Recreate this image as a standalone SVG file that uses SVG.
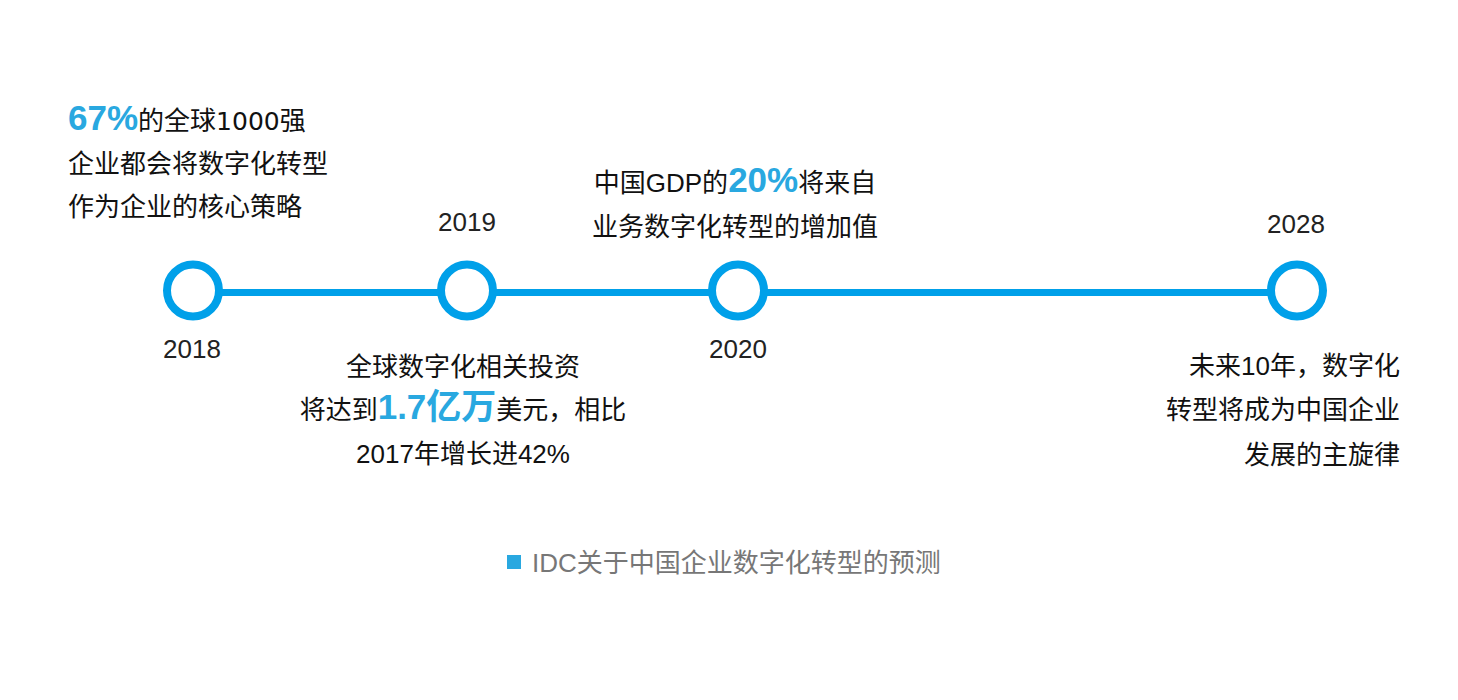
<svg xmlns="http://www.w3.org/2000/svg" width="1458" height="700" viewBox="0 0 1458 700">
<style>
text{font-family:"Liberation Sans","Noto Sans CJK SC",sans-serif;fill:#111;}
.t{font-size:26px;}
.y{font-size:26px;fill:#222;}
.hl{font-size:35px;font-weight:bold;fill:#29a8e0;}
.num{font-family:"DejaVu Sans","Liberation Sans",sans-serif;font-size:25px;}
.mid{text-anchor:middle;}
.end{text-anchor:end;}
.node{fill:#fff;stroke:#00a0e9;stroke-width:8;}
.lg{font-size:26px;fill:#777;}
</style>
<rect width="1458" height="700" fill="#fff"/>
<g id="connectors">
<line x1="219" y1="292.5" x2="1272" y2="292.5" stroke="#00a0e9" stroke-width="7"/>
</g>
<g id="n2018">
<circle class="node" cx="193" cy="290.5" r="26"/>
<text class="y mid" x="192" y="358">2018</text>
<text class="t" x="68" y="130"><tspan class="hl">67%</tspan>的全球<tspan class="num">1000</tspan>强</text>
<text class="t" x="68" y="173">企业都会将数字化转型</text>
<text class="t" x="68" y="216">作为企业的核心策略</text>
</g>
<g id="n2019">
<circle class="node" cx="467" cy="290.5" r="26"/>
<text class="y mid" x="467" y="231">2019</text>
<text class="t mid" x="463" y="376">全球数字化相关投资</text>
<text class="t mid" x="463" y="419">将达到<tspan class="hl">1.7亿万</tspan>美元，相比</text>
<text class="t mid" x="463" y="463">2017年增长进42%</text>
</g>
<g id="n2020">
<circle class="node" cx="738" cy="290.5" r="26"/>
<text class="y mid" x="738" y="358">2020</text>
<text class="t mid" x="735" y="192">中国GDP的<tspan class="hl">20%</tspan>将来自</text>
<text class="t mid" x="735" y="236">业务数字化转型的增加值</text>
</g>
<g id="n2028">
<circle class="node" cx="1297" cy="290.5" r="26"/>
<text class="y mid" x="1296" y="233">2028</text>
<text class="t end" x="1400" y="375">未来10年，数字化</text>
<text class="t end" x="1400" y="419">转型将成为中国企业</text>
<text class="t end" x="1400" y="464">发展的主旋律</text>
</g>
<g id="legend">
<rect x="507" y="555" width="14" height="14" fill="#29a8e0"/>
<text class="lg" x="532" y="572">IDC关于中国企业数字化转型的预测</text>
</g>
</svg>
